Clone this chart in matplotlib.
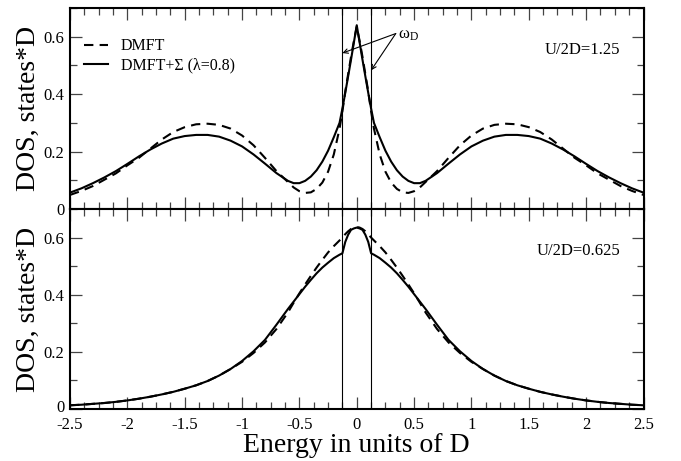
import matplotlib
matplotlib.use("Agg")
import matplotlib.pyplot as plt
from matplotlib.ticker import MultipleLocator
from matplotlib.transforms import ScaledTranslation

plt.rcParams['font.family'] = ['Liberation Serif', 'DejaVu Serif']
plt.rcParams['mathtext.fontset'] = 'custom'
plt.rcParams['mathtext.rm'] = 'Liberation Serif'
plt.rcParams['mathtext.it'] = 'Liberation Serif:italic'

# ---------------- data ----------------
energy = [-2.5, -2.4, -2.3, -2.2, -2.1, -2.0, -1.9, -1.8, -1.7, -1.6, -1.5, -1.4, -1.3,
          -1.2, -1.1, -1.0, -0.9, -0.8, -0.7, -0.6, -0.55, -0.5, -0.45, -0.4, -0.35,
          -0.3, -0.25, -0.2, -0.15, -0.125, -0.1, -0.075, -0.05, -0.025, 0.0,
          0.025, 0.05, 0.075, 0.1, 0.125, 0.15, 0.2, 0.25, 0.3, 0.35, 0.4, 0.45,
          0.5, 0.55, 0.6, 0.7, 0.8, 0.9, 1.0, 1.1, 1.2, 1.3, 1.4, 1.5, 1.6, 1.7,
          1.8, 1.9, 2.0, 2.1, 2.2, 2.3, 2.4, 2.5]

# U/2D = 1.25
top_dmft = [0.049, 0.063, 0.08, 0.102, 0.124, 0.152, 0.178, 0.21, 0.242, 0.268, 0.285,
            0.295, 0.297, 0.293, 0.28, 0.256, 0.222, 0.178, 0.132, 0.094, 0.075, 0.062,
            0.056, 0.058, 0.07, 0.092, 0.13, 0.19, 0.28, 0.34, 0.41, 0.47, 0.53, 0.585,
            0.635,
            0.585, 0.53, 0.47, 0.41, 0.34, 0.28, 0.19, 0.13, 0.092, 0.07, 0.058, 0.056,
            0.062, 0.075, 0.094, 0.132, 0.178, 0.222, 0.256, 0.28, 0.293, 0.297, 0.295,
            0.285, 0.268, 0.242, 0.21, 0.178, 0.152, 0.124, 0.102, 0.08, 0.063, 0.049]
top_sigma = [0.057, 0.072, 0.09, 0.11, 0.132, 0.157, 0.183, 0.207, 0.228, 0.245, 0.254,
             0.258, 0.258, 0.252, 0.238, 0.218, 0.19, 0.158, 0.125, 0.098, 0.09, 0.09,
             0.098, 0.113, 0.135, 0.165, 0.203, 0.25, 0.30, 0.35, 0.405, 0.462, 0.52,
             0.58, 0.64,
             0.58, 0.52, 0.462, 0.405, 0.35, 0.30, 0.25, 0.203, 0.165, 0.135, 0.113,
             0.098, 0.09, 0.09, 0.098, 0.125, 0.158, 0.19, 0.218, 0.238, 0.252, 0.258,
             0.258, 0.254, 0.245, 0.228, 0.207, 0.183, 0.157, 0.132, 0.11, 0.09, 0.072,
             0.057]

# U/2D = 0.625
bot_dmft = [0.013, 0.015, 0.018, 0.021, 0.025, 0.03, 0.036, 0.043, 0.051, 0.06, 0.071,
            0.083, 0.098, 0.117, 0.14, 0.165, 0.196, 0.233, 0.28, 0.338, 0.372, 0.405,
            0.436, 0.466, 0.495, 0.522, 0.548, 0.57, 0.59, 0.60, 0.612, 0.622, 0.63,
            0.635, 0.637,
            0.635, 0.63, 0.622, 0.612, 0.60, 0.59, 0.57, 0.548, 0.522, 0.495, 0.466,
            0.436, 0.405, 0.372, 0.338, 0.28, 0.233, 0.196, 0.165, 0.14, 0.117, 0.098,
            0.083, 0.071, 0.06, 0.051, 0.043, 0.036, 0.03, 0.025, 0.021, 0.018, 0.015,
            0.013]
bot_sigma = [0.013, 0.015, 0.018, 0.021, 0.025, 0.03, 0.036, 0.043, 0.051, 0.06, 0.071,
             0.083, 0.098, 0.117, 0.14, 0.168, 0.202, 0.242, 0.295, 0.35, 0.376, 0.402,
             0.428, 0.452, 0.475, 0.495, 0.512, 0.528, 0.54, 0.545, 0.585, 0.61, 0.627,
             0.632, 0.635,
             0.632, 0.627, 0.61, 0.585, 0.545, 0.54, 0.528, 0.512, 0.495, 0.475, 0.452,
             0.428, 0.402, 0.376, 0.35, 0.295, 0.242, 0.202, 0.168, 0.14, 0.117, 0.098,
             0.083, 0.071, 0.06, 0.051, 0.043, 0.036, 0.03, 0.025, 0.021, 0.018, 0.015,
             0.013]

omega_d = 0.125
labels = ["DMFT", "DMFT+Σ (λ=0.8)"]
panel_text = ["U/2D=1.25", "U/2D=0.625"]
xticks = [-2.5, -2, -1.5, -1, -0.5, 0, 0.5, 1, 1.5, 2, 2.5]
xticklabels = ["-2.5", "-2", "-1.5", "-1", "-0.5", "0", "0.5", "1", "1.5", "2", "2.5"]
yticks = [0, 0.2, 0.4, 0.6]
yticklabels = ["0", "0.2", "0.4", "0.6"]

# ---------------- figure ----------------
fig = plt.figure(figsize=(6.81, 4.61), dpi=100)
left, right = 70 / 681, 643.5 / 681
ax1 = fig.add_axes([left, 1 - 209 / 461, right - left, (209 - 8) / 461])
ax2 = fig.add_axes([left, 1 - 409 / 461, right - left, (409 - 209) / 461])

for ax, yd, ys, txt in [(ax1, top_dmft, top_sigma, panel_text[0]),
                        (ax2, bot_dmft, bot_sigma, panel_text[1])]:
    ax.plot(energy, yd, color='black', lw=1.5, dashes=(4.5, 3), label=labels[0])
    ax.plot(energy, ys, color='black', lw=1.5, label=labels[1])
    ax.axvline(-omega_d, color='black', lw=0.8)
    ax.axvline(omega_d, color='black', lw=0.8)
    ax.set_xlim(-2.5, 2.5)
    ax.set_ylim(0, 0.7)
    ax.set_xticks(xticks)
    ax.xaxis.set_minor_locator(MultipleLocator(0.125))
    ax.set_yticks(yticks)
    ax.set_yticklabels(yticklabels)
    ax.yaxis.set_minor_locator(MultipleLocator(0.1))
    ax.tick_params(which='both', direction='in', top=True, right=True,
                   labelsize=12, width=0.9, color='#444444')
    ax.tick_params(axis='y', pad=4)
    ax.tick_params(which='major', length=8.5)
    ax.tick_params(which='minor', length=5)
    for s in ax.spines.values():
        s.set_linewidth(1.5)
    ax.set_ylabel("DOS, states*D", fontsize=20, labelpad=2)
    ax.text(0.96, 0.79, txt, transform=ax.transAxes,
            ha='right', va='center', fontsize=12)

ax1.set_xticklabels([])
ax2.set_xticklabels(xticklabels)
ax2.tick_params(axis='x', pad=6)
ax2.set_xlabel("Energy in units of D", fontsize=20, labelpad=0)

# nudge the bottom panel's "0" label slightly upward, as in the reference
zero_lbl = ax2.get_yticklabels()[0]
zero_lbl.set_transform(zero_lbl.get_transform() + ScaledTranslation(0, 2.5 / 72, fig.dpi_scale_trans))

leg = ax1.legend(loc='upper left', bbox_to_anchor=(0.025, 0.85), frameon=False,
                 fontsize=11.5, handlelength=1.5, handletextpad=0.8,
                 labelspacing=0.2, borderpad=0, borderaxespad=0)

# omega_D annotation
ax1.text(0.36, 0.605, r"ω$_{\mathrm{D}}$", fontsize=12, ha='left', va='center')
for tip in [(-omega_d, 0.543), (omega_d, 0.483)]:
    ax1.annotate("", xy=tip, xytext=(0.34, 0.611),
                 arrowprops=dict(arrowstyle='->', lw=0.8, color='black',
                                 shrinkA=0, shrinkB=0, mutation_scale=8))

fig.savefig("out.png", dpi=100)
